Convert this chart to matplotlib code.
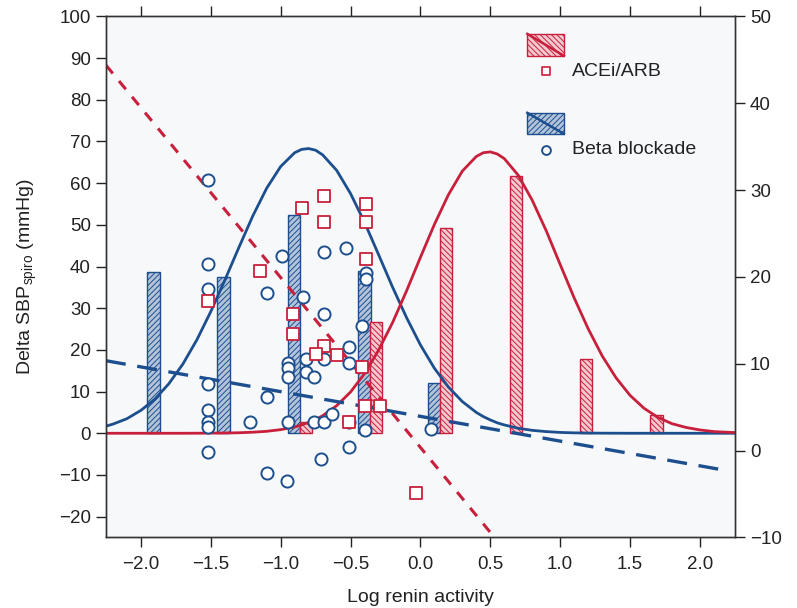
import matplotlib
matplotlib.use('Agg')
import matplotlib.pyplot as plt
from matplotlib.patches import Rectangle

plt.rcParams['font.family'] = ['Liberation Sans', 'DejaVu Sans']
plt.rcParams['hatch.linewidth'] = 0.7

BLUE = '#1d4f8e'
RED = '#c8203c'

# Histogram bars (left axis scale)
blue_bar_x = [-1.91, -1.41, -0.905, -0.40, 0.10]
blue_bar_h = [38.8, 37.4, 52.4, 38.9, 12.0]
red_bar_x = [-0.82, -0.32, 0.185, 0.685, 1.185, 1.69]
red_bar_h = [2.6, 26.8, 49.3, 61.6, 17.8, 4.4]

# Fitted distribution curves
curve_x = [-2.25, -2.2, -2.1, -2.0, -1.9, -1.8, -1.7, -1.6, -1.5, -1.4, -1.3, -1.2,
           -1.1, -1.0, -0.9, -0.85, -0.8, -0.75, -0.7, -0.6, -0.5, -0.4, -0.3, -0.2,
           -0.1, 0.0, 0.1, 0.2, 0.3, 0.4, 0.45, 0.5, 0.55, 0.6, 0.7, 0.8, 0.9, 1.0,
           1.1, 1.2, 1.3, 1.4, 1.5, 1.6, 1.7, 1.8, 1.9, 2.0, 2.1, 2.25]
blue_curve = [1.7, 2.2, 3.5, 5.5, 8.2, 11.9, 16.6, 22.4, 29.2, 36.7, 44.5, 52.1,
              58.8, 64.0, 67.3, 68.1, 68.3, 67.9, 66.8, 63.1, 57.5, 50.6, 42.9, 35.1,
              27.8, 21.2, 15.6, 11.1, 7.6, 5.0, 4.0, 3.2, 2.5, 2.0, 1.2, 0.7, 0.4, 0.2,
              0.1, 0.05, 0.02, 0.01, 0.0, 0.0, 0.0, 0.0, 0.0, 0.0, 0.0, 0.0]
red_curve = [0.0, 0.0, 0.0, 0.0, 0.0, 0.0, 0.0, 0.01, 0.03, 0.06, 0.12, 0.25,
             0.47, 0.87, 1.5, 2.0, 2.6, 3.3, 4.2, 6.6, 9.9, 14.3, 19.9, 26.5,
             34.1, 42.2, 50.1, 57.2, 62.9, 66.4, 67.3, 67.5, 67.0, 65.9, 61.9, 55.9,
             48.6, 40.5, 32.5, 25.1, 18.6, 13.3, 9.1, 6.0, 3.8, 2.3, 1.4, 0.8, 0.4, 0.16]

# Regression lines (end points)
red_reg_x = [-2.25, 0.53]
red_reg_y = [88.3, -25.0]
blue_reg_x = [-2.25, 2.2]
blue_reg_y = [17.4, -9.0]

# Individual patients
beta_x = [-1.52, -1.52, -1.52, -1.52, -1.52, -1.52, -1.52, -1.52, -1.22, -1.10,
          -1.10, -1.10, -0.99, -0.95, -0.95, -0.95, -0.95, -0.955, -0.84, -0.82,
          -0.82, -0.76, -0.76, -0.69, -0.69, -0.69, -0.69, -0.71, -0.63, -0.53,
          -0.51, -0.51, -0.51, -0.51, -0.39, -0.39, -0.42, -0.40, 0.075]
beta_y = [60.8, 40.6, 34.6, 11.8, 5.6, 2.8, 1.5, -4.4, 2.6, 33.7,
          8.8, -9.5, 42.6, 16.9, 15.7, 13.6, 2.6, -11.4, 32.8, 17.8,
          14.8, 13.6, 2.8, 43.6, 28.6, 17.8, 2.8, -6.2, 4.7, 44.5,
          20.7, 16.9, 2.6, -3.2, 38.5, 36.9, 25.8, 0.9, 1.0]
acei_x = [-1.52, -1.15, -0.91, -0.91, -0.845, -0.69, -0.69, -0.69, -0.75, -0.60,
          -0.51, -0.39, -0.39, -0.39, -0.42, -0.40, -0.29, -0.03]
acei_y = [31.7, 38.9, 28.6, 23.8, 54.0, 56.8, 50.6, 20.9, 18.9, 18.8,
          2.7, 55.0, 50.8, 41.8, 15.9, 6.6, 6.6, -14.4]

fig = plt.figure(figsize=(7.97, 6.08), dpi=100)
ax = fig.add_axes([0.133, 0.116, 0.789, 0.857])
ax.set_facecolor('#f6f8fa')

# Bars
ax.bar(blue_bar_x, blue_bar_h, width=0.088, color='#b3c4da', edgecolor=BLUE,
       hatch='//////', linewidth=1.0, zorder=1)
ax.bar(red_bar_x, red_bar_h, width=0.088, color='#f3c9cf', edgecolor=RED,
       hatch='\\\\\\\\\\\\', linewidth=1.0, zorder=1)

# Curves and regressions
ax.plot(curve_x, blue_curve, color=BLUE, linewidth=2.0, zorder=2)
ax.plot(curve_x, red_curve, color=RED, linewidth=2.0, zorder=2)
ax.plot(red_reg_x, red_reg_y, color=RED, linewidth=2.2, dashes=(3.5, 3.2), zorder=2)
ax.plot(blue_reg_x, blue_reg_y, color=BLUE, linewidth=2.4, dashes=(6.0, 3.5), zorder=2)

# Scatter
ax.scatter(beta_x, beta_y, s=76, marker='o', facecolor='white', edgecolor=BLUE,
           linewidth=1.4, zorder=3)
ax.scatter(acei_x, acei_y, s=72, marker='s', facecolor='white', edgecolor=RED,
           linewidth=1.3, zorder=3)

ax.set_xlim(-2.25, 2.25)
ax.set_ylim(-25, 100)
ax.set_xticks([-2.0, -1.5, -1.0, -0.5, 0.0, 0.5, 1.0, 1.5, 2.0])
ax.set_xticklabels(['\u22122.0', '\u22121.5', '\u22121.0', '\u22120.5', '0.0',
                    '0.5', '1.0', '1.5', '2.0'])
ax.set_yticks(range(-20, 101, 10))
ax.set_yticklabels([str(v).replace('-', '\u2212') for v in range(-20, 101, 10)])
ax.tick_params(axis='both', direction='out', length=7, width=1.0, labelsize=13.5,
               colors='#222222', pad=4)
ax.tick_params(axis='x', top=True, pad=6)
for s in ax.spines.values():
    s.set_color('#333333')
    s.set_linewidth(1.0)

ax.set_xlabel('Log renin activity', fontsize=14, color='#222222', labelpad=12)
ax.set_ylabel(r'Delta SBP$_{\mathregular{spiro}}$ (mmHg)', fontsize=14,
              color='#222222', labelpad=14)

# Right axis
ax2 = ax.twinx()
ax2.set_ylim(-10, 50)
ax2.set_yticks(range(-10, 51, 10))
ax2.set_yticklabels([str(v).replace('-', '\u2212') for v in range(-10, 51, 10)])
ax2.tick_params(axis='y', direction='out', length=7, width=1.0, labelsize=13.5,
                colors='#222222', pad=4)
for s in ax2.spines.values():
    s.set_color('#333333')
    s.set_linewidth(1.0)

# Legend drawn by hand
ax.add_patch(Rectangle((0.670, 0.9245), 0.058, 0.042, transform=ax.transAxes,
                       facecolor='#f3c9cf', edgecolor=RED, hatch='\\\\\\\\\\\\',
                       linewidth=1.0, zorder=4))
ax.plot([0.670, 0.728], [0.9665, 0.9245], transform=ax.transAxes, color=RED,
        linewidth=1.8, zorder=5)
ax.scatter([0.6995], [0.8945], transform=ax.transAxes, s=40, marker='s',
           facecolor='white', edgecolor=RED, linewidth=1.2, zorder=5)
ax.text(0.741, 0.8945, 'ACEi/ARB', transform=ax.transAxes, fontsize=14,
        va='center', ha='left', color='#222222', zorder=5)

ax.add_patch(Rectangle((0.670, 0.7748), 0.058, 0.0403, transform=ax.transAxes,
                       facecolor='#b3c4da', edgecolor=BLUE, hatch='//////',
                       linewidth=1.0, zorder=4))
ax.plot([0.670, 0.728], [0.815, 0.7748], transform=ax.transAxes, color=BLUE,
        linewidth=1.8, zorder=5)
ax.scatter([0.6995], [0.744], transform=ax.transAxes, s=40, marker='o',
           facecolor='white', edgecolor=BLUE, linewidth=1.4, zorder=5)
ax.text(0.741, 0.744, 'Beta blockade', transform=ax.transAxes, fontsize=14,
        va='center', ha='left', color='#222222', zorder=5)

plt.savefig('out.png', dpi=100)
